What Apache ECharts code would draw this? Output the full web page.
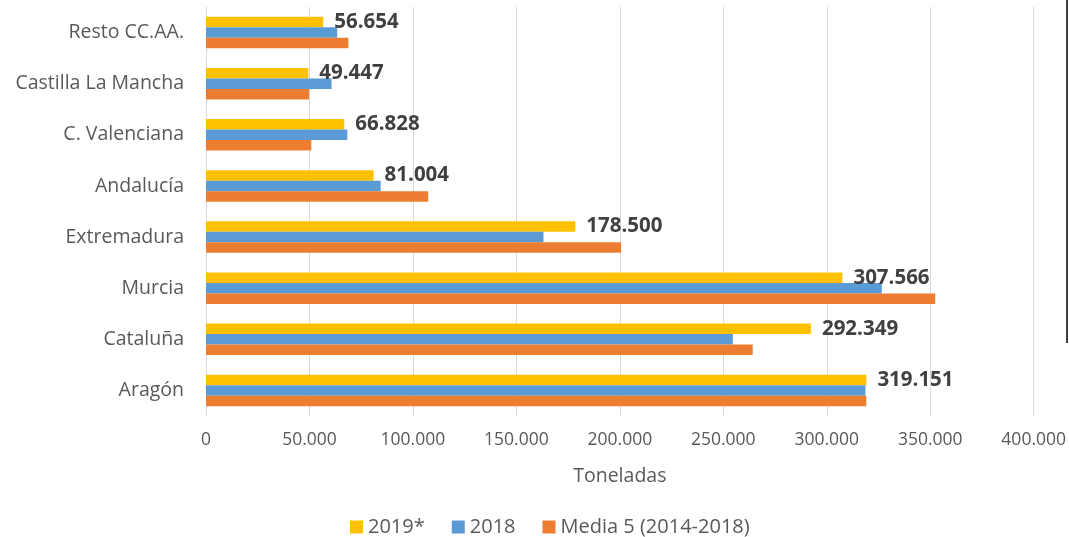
<!DOCTYPE html>
<html><head><meta charset="utf-8">
<script src="https://cdn.jsdelivr.net/npm/echarts@6/dist/echarts.min.js"></script>
<style>html,body{margin:0;padding:0;background:#fff}#c{width:1069px;height:537px}</style>
</head><body><div id="c"></div>
<script>
const categories = ['Aragón','Cataluña','Murcia','Extremadura','Andalucía','C. Valenciana','Castilla La Mancha','Resto CC.AA.'];
const values2019 = [319151, 292349, 307566, 178500, 81004, 66828, 49447, 56654];
const values2018 = [318700, 254600, 326600, 163100, 84400, 68300, 60700, 63400];
const valuesMedia = [319100, 264200, 352400, 200600, 107400, 50900, 49800, 68800];
const xTicks = [0, 50000, 100000, 150000, 200000, 250000, 300000, 350000, 400000];

const fmt = v => v === 0 ? '0' : v.toLocaleString('de-DE');
const FONT = 'Open Sans';
const chart = echarts.init(document.getElementById('c'));
chart.setOption({
  animation: false,
  textStyle: {fontFamily: FONT},
  grid: {left: 206, right: 35, top: 7, bottom: 121, containLabel: false},
  legend: {
    data: ['2019*', '2018', 'Media 5 (2014-2018)'],
    bottom: -5, left: 345, itemWidth: 13, itemHeight: 13, itemGap: 27,
    icon: 'rect',
    textStyle: {fontSize: 20, color: '#595959', fontFamily: FONT}
  },
  xAxis: {
    type: 'value', min: xTicks[0], max: xTicks[xTicks.length - 1], interval: 50000,
    name: 'Toneladas', nameLocation: 'middle', nameGap: 50,
    nameTextStyle: {fontSize: 19.5, color: '#595959', fontFamily: FONT},
    axisLine: {show: false}, axisTick: {show: false},
    axisLabel: {fontSize: 17.5, color: '#595959', margin: 15, formatter: fmt, fontFamily: FONT},
    splitLine: {show: true, lineStyle: {color: '#d9d9d9', width: 1}}
  },
  yAxis: {
    type: 'category', data: categories,
    axisLine: {show: false}, axisTick: {show: false},
    axisLabel: {fontSize: 19.5, color: '#595959', margin: 22, fontFamily: FONT}
  },
  series: [
    {name: '2019*', type: 'bar', data: values2019, itemStyle: {color: '#FFC000'}, barWidth: 10.5, barGap: '0%', barCategoryGap: '38%',
     label: {show: true, position: 'right', distance: 11, fontSize: 20.5, fontWeight: 'bold', color: '#404040',
             fontFamily: FONT, formatter: p => fmt(p.value)}},
    {name: '2018', type: 'bar', data: values2018, itemStyle: {color: '#5B9BD5'}, barWidth: 10.5, barGap: '0%'},
    {name: 'Media 5 (2014-2018)', type: 'bar', data: valuesMedia, itemStyle: {color: '#ED7D31'},
     barWidth: 10.5, barGap: '0%'}
  ],
  graphic: [{type: 'rect', shape: {x: 1066, y: 0, width: 2, height: 343}, style: {fill: '#404040'}}]
});
</script></body></html>
